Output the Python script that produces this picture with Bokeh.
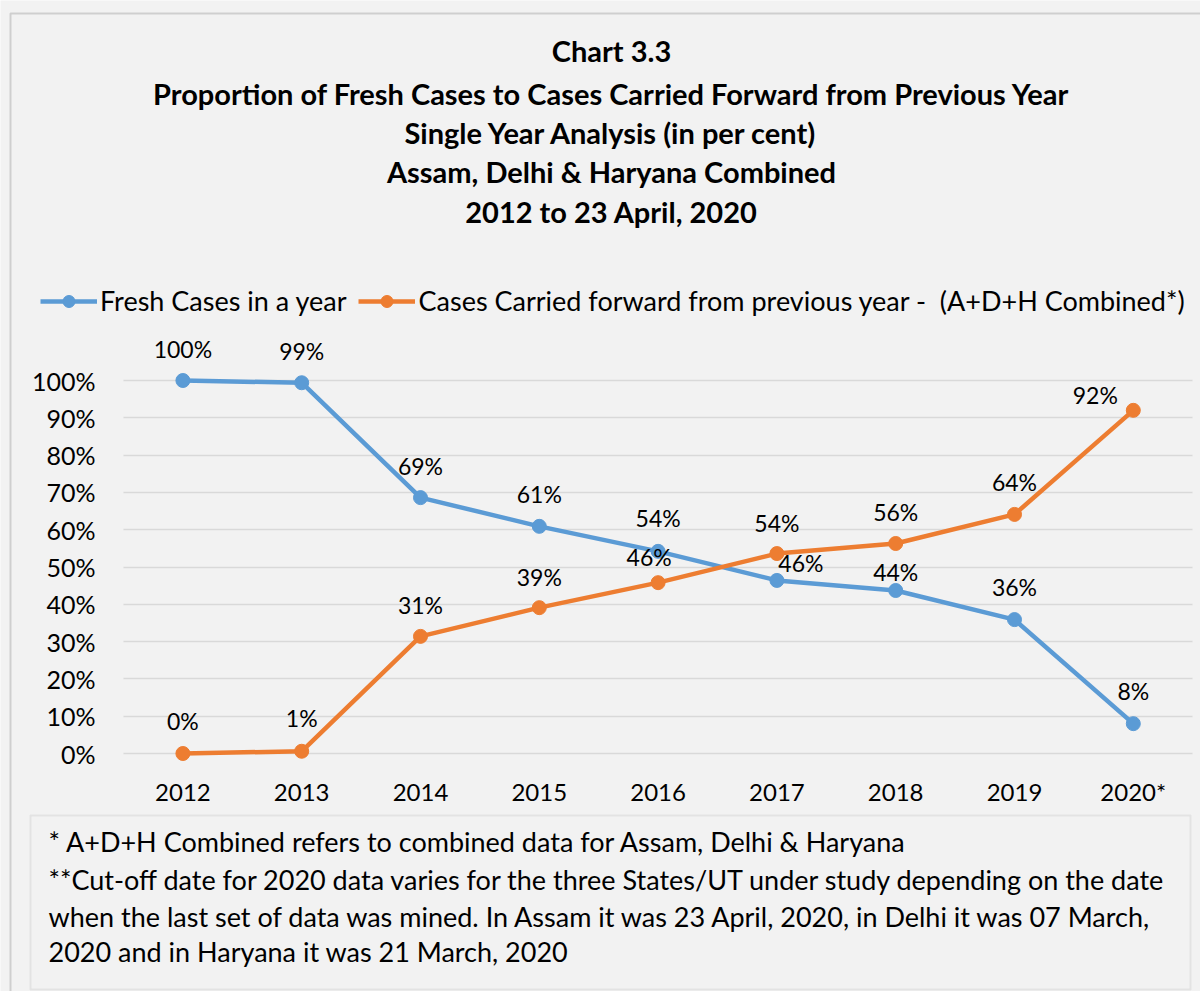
from bokeh.plotting import figure
from bokeh.models import (Range1d, FixedTicker, Label, BoxAnnotation,
                          Legend, LegendItem, ColumnDataSource)
from bokeh.core.properties import value
from bokeh.embed import file_html
from bokeh.resources import INLINE

# ---------------- data ----------------
years = ["2012", "2013", "2014", "2015", "2016", "2017", "2018", "2019", "2020*"]
fresh = [100.0, 99.4, 68.6, 60.9, 54.2, 46.4, 43.7, 35.9, 8.0]
carried = [0.0, 0.6, 31.4, 39.1, 45.8, 53.6, 56.3, 64.1, 92.0]
y_ticks = [0, 10, 20, 30, 40, 50, 60, 70, 80, 90, 100]

series_names = ["Fresh Cases in a year",
                "Cases Carried forward from previous year -  (A+D+H Combined*)"]
title_lines = ["Chart 3.3",
               "Proportion of Fresh Cases to Cases Carried Forward from Previous Year",
               "Single Year Analysis (in per cent)",
               "Assam, Delhi & Haryana Combined",
               "2012 to 23 April, 2020"]
note_lines = ["* A+D+H Combined refers to combined data for Assam, Delhi & Haryana",
              "**Cut-off date for 2020 data varies for the three States/UT under study depending on the date",
              "when the last set of data was mined. In Assam it was 23 April, 2020, in Delhi it was 07 March,",
              "2020 and in Haryana it was 21 March, 2020"]

# ---------------- styles / layout ----------------
FONT = "Lato"
BLUE = "#5B9BD5"
ORANGE = "#ED7D31"
BG = "#F2F2F2"
fresh_dx = [0, 0, 0, 0, 0, 24, 0, 0, 0]
fresh_dy = [-32, -32, -32, -32, -33, -17, -18, -33, -33]
carr_dx = [0, 0, 0, 0, -9, 0, 0, 0, -38]
carr_dy = [-33, -33, -31, -31, -26, -31, -32, -32, -15]

W, H = 1200, 991
PXC = 118.8            # pixels per category
X_FIRST = 182.4        # pixel centre of first category
PXY = (753 - 380) / 100.0
x_start = -X_FIRST / PXC
x_end = x_start + W / PXC
y_end = 100 + 380 / PXY
y_start = -(H - 753) / PXY
x_axis_at = -(770 - 753) / PXY
y_axis_at = -0.5

xs = list(range(len(years)))

p = figure(width=W, height=H, x_range=Range1d(x_start, x_end),
           y_range=Range1d(y_start, y_end), output_backend="svg",
           toolbar_location=None, min_border=0,
           background_fill_color=BG, border_fill_color=BG, outline_line_color=None)

# axes (fixed inside the canvas)
p.xaxis.fixed_location = x_axis_at
p.xaxis.ticker = FixedTicker(ticks=xs)
p.xaxis.major_label_overrides = {i: y for i, y in zip(xs, years)}
p.xaxis.axis_line_color = None
p.xaxis.major_tick_line_color = None
p.xaxis.major_tick_out = 0
p.xaxis.minor_tick_line_color = None
p.xaxis.major_label_text_font = FONT
p.xaxis.major_label_text_font_size = "24px"
p.xaxis.major_label_text_color = "#000000"
p.xaxis.major_label_standoff = 6
p.xgrid.grid_line_color = None

p.yaxis.fixed_location = y_axis_at
p.yaxis.ticker = FixedTicker(ticks=y_ticks)
p.yaxis.major_label_overrides = {t: f"{t}%" for t in y_ticks}
p.yaxis.axis_line_color = None
p.yaxis.major_tick_line_color = None
p.yaxis.major_tick_out = 0
p.yaxis.minor_tick_line_color = None
p.yaxis.major_label_text_font = FONT
p.yaxis.major_label_text_font_size = "25px"
p.yaxis.major_label_text_color = "#000000"
p.yaxis.major_label_standoff = 28
p.ygrid.ticker = FixedTicker(ticks=y_ticks)
p.ygrid.grid_line_color = "#D9D9D9"
p.ygrid.grid_line_width = 1.5
p.ygrid.cross_bounds = (y_axis_at, len(years) - 0.5)

src = ColumnDataSource(dict(
    x=xs, fresh=fresh, carried=carried,
    fl=[f"{round(v)}%" for v in fresh], cl=[f"{round(v)}%" for v in carried],
    fdx=fresh_dx, fdy=fresh_dy, cdx=carr_dx, cdy=carr_dy))

l1 = p.line("x", "fresh", source=src, line_color=BLUE, line_width=4.5)
s1 = p.scatter("x", "fresh", source=src, size=14, fill_color=BLUE, line_color=BLUE)
l2 = p.line("x", "carried", source=src, line_color=ORANGE, line_width=4.5)
s2 = p.scatter("x", "carried", source=src, size=14, fill_color=ORANGE, line_color=ORANGE)

p.text("x", "fresh", text="fl", source=src, x_offset="fdx", y_offset="fdy",
       text_font=value(FONT), text_font_size="23px", text_align="center",
       text_baseline="middle", text_color="#000000")
p.text("x", "carried", text="cl", source=src, x_offset="cdx", y_offset="cdy",
       text_font=value(FONT), text_font_size="23px", text_align="center",
       text_baseline="middle", text_color="#000000")

legend = Legend(items=[LegendItem(label=series_names[0], renderers=[l1, s1]),
                       LegendItem(label=series_names[1], renderers=[l2, s2])],
                location=(40, H - 317), orientation="horizontal",
                background_fill_alpha=0, border_line_color=None, padding=0, margin=0,
                glyph_width=57, glyph_height=30, label_standoff=3, spacing=12,
                label_text_font=FONT, label_text_font_size="27px",
                label_text_color="#000000")
p.add_layout(legend, "center")

# titles (page pixel positions)
title_y = [50, 93, 132, 171, 211]
for t, yy in zip(title_lines, title_y):
    p.add_layout(Label(x=611, y=H - yy, x_units="screen", y_units="screen",
                       text=t, text_font=FONT, text_font_size="29px",
                       text_font_style="bold", text_align="center",
                       text_baseline="middle", text_color="#000000"))

# note box
p.add_layout(BoxAnnotation(left=30, right=1190, top=H - 815, bottom=H - 989,
                           left_units="screen", right_units="screen",
                           top_units="screen", bottom_units="screen",
                           fill_alpha=0, line_color="#BFBFBF", line_width=2))
note_y = [841, 879, 916, 951]
for t, yy in zip(note_lines, note_y):
    p.add_layout(Label(x=48, y=H - yy, x_units="screen", y_units="screen",
                       text=t, text_font=FONT, text_font_size="27px",
                       text_align="left", text_baseline="middle",
                       text_color="#000000"))

# outer chart border
p.add_layout(BoxAnnotation(left=10, right=W + 50, top=H - 13, bottom=-50,
                           left_units="screen", right_units="screen",
                           top_units="screen", bottom_units="screen",
                           fill_alpha=0, line_color="#7F7F7F", line_width=2))

html = file_html(p, INLINE)
html = html.replace("<body>", '<body style="background:#F2F2F2">', 1)
open("out.html", "w").write(html)
